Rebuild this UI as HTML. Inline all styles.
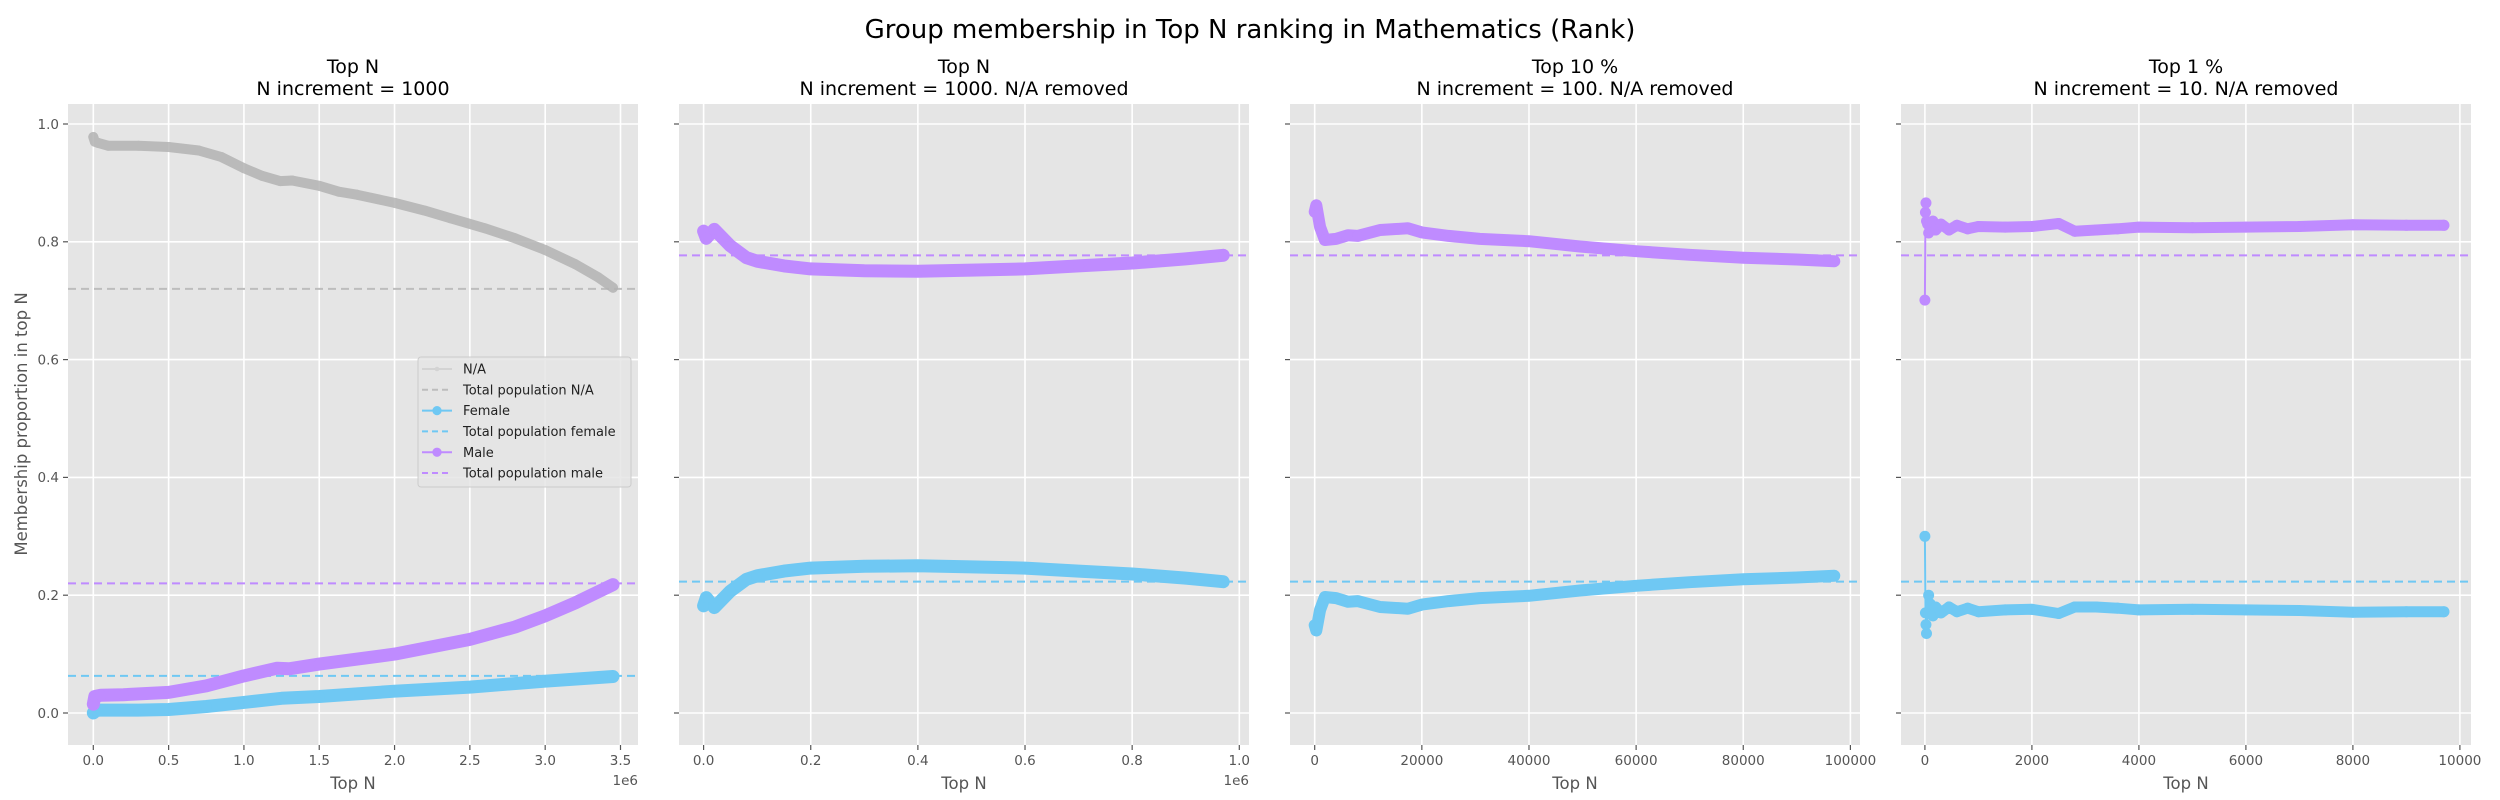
<!DOCTYPE html>
<html><head><meta charset="utf-8"><title>Group membership chart</title>
<style>
html,body{margin:0;padding:0;background:#fff;}
svg{display:block;font-family:"DejaVu Sans","Liberation Sans",sans-serif;}
</style></head>
<body>
<svg id="chart" width="2500" height="800" viewBox="0 0 2500 800" xmlns="http://www.w3.org/2000/svg">
<text x="1250" y="38" font-size="26" text-anchor="middle" fill="#000">Group membership in Top N ranking in Mathematics (Rank)</text>
<text transform="translate(27,424) rotate(-90)" font-size="16.5" text-anchor="middle" fill="#555">Membership proportion in top N</text>
<g id="plots"></g>
</svg>
<script>
// ---------- data ----------
const yTicks = [0.0, 0.2, 0.4, 0.6, 0.8, 1.0];
const yTickLabels = ["0.0", "0.2", "0.4", "0.6", "0.8", "1.0"];

// Panel 1: Top N, x in units of 1e6
const p1Ticks = [0, 0.5, 1.0, 1.5, 2.0, 2.5, 3.0, 3.5];
const p1TickLabels = ["0.0","0.5","1.0","1.5","2.0","2.5","3.0","3.5"];
const p1NaX = [0, 0.01, 0.03, 0.1, 0.3, 0.5, 0.7, 0.85, 1.0, 1.12, 1.24, 1.32, 1.5, 1.63, 1.75, 2.0, 2.2, 2.37, 2.6, 2.8, 3.0, 3.2, 3.35, 3.45];
const p1NaY = [0.978, 0.97, 0.968, 0.963, 0.963, 0.961, 0.955, 0.944, 0.925, 0.912, 0.903, 0.904, 0.895, 0.885, 0.88, 0.866, 0.853, 0.84, 0.823, 0.806, 0.786, 0.762, 0.74, 0.722];
const p1FemaleX = [0, 0.02, 0.05, 0.3, 0.5, 0.75, 1.0, 1.25, 1.5, 2.0, 2.5, 3.0, 3.45];
const p1FemaleY = [0.0, 0.004, 0.005, 0.005, 0.006, 0.011, 0.018, 0.025, 0.028, 0.037, 0.044, 0.054, 0.062];
const p1MaleX = [0, 0.01, 0.05, 0.2, 0.5, 0.75, 1.0, 1.22, 1.3, 1.5, 2.0, 2.5, 2.8, 3.0, 3.2, 3.45];
const p1MaleY = [0.015, 0.028, 0.03, 0.031, 0.035, 0.046, 0.063, 0.076, 0.075, 0.083, 0.1, 0.125, 0.146, 0.165, 0.187, 0.218];
const p1TotalNa = 0.72, p1TotalFemale = 0.063, p1TotalMale = 0.22;

// Panel 2: Top N, N/A removed, x in 1e6
const p2Ticks = [0, 0.2, 0.4, 0.6, 0.8, 1.0];
const p2TickLabels = ["0.0","0.2","0.4","0.6","0.8","1.0"];
const p2FemaleX = [0, 0.005, 0.02, 0.05, 0.08, 0.1, 0.15, 0.2, 0.3, 0.4, 0.5, 0.6, 0.7, 0.8, 0.9, 0.97];
const p2FemaleY = [0.182, 0.196, 0.179, 0.207, 0.227, 0.233, 0.241, 0.246, 0.249, 0.25, 0.248, 0.246, 0.241, 0.236, 0.229, 0.223];
const p2MaleX = [0, 0.005, 0.02, 0.05, 0.08, 0.1, 0.15, 0.2, 0.3, 0.4, 0.5, 0.6, 0.7, 0.8, 0.9, 0.97];
const p2MaleY = [0.818, 0.806, 0.821, 0.793, 0.773, 0.767, 0.759, 0.754, 0.751, 0.75, 0.752, 0.754, 0.759, 0.764, 0.771, 0.777];
const p2TotalFemale = 0.223, p2TotalMale = 0.777;

// Panel 3: Top 10 %
const p3Ticks = [0, 20000, 40000, 60000, 80000, 100000];
const p3TickLabels = ["0","20000","40000","60000","80000","100000"];
const p3FemaleX = [0, 300, 1000, 1900, 4000, 6200, 8000, 12200, 17400, 20000, 25000, 30800, 40000, 49500, 60000, 70000, 80000, 90000, 97000];
const p3FemaleY = [0.149, 0.14, 0.175, 0.197, 0.195, 0.189, 0.19, 0.18, 0.177, 0.184, 0.19, 0.195, 0.199, 0.208, 0.216, 0.222, 0.227, 0.23, 0.233];
const p3MaleX = [0, 300, 1000, 1900, 4000, 6200, 8000, 12200, 17400, 20000, 25000, 30800, 40000, 49500, 60000, 70000, 80000, 90000, 97000];
const p3MaleY = [0.851, 0.862, 0.825, 0.803, 0.805, 0.811, 0.81, 0.82, 0.823, 0.816, 0.81, 0.805, 0.801, 0.792, 0.784, 0.778, 0.773, 0.77, 0.767];
const p3TotalFemale = 0.223, p3TotalMale = 0.777;

// Panel 4: Top 1 %
const p4Ticks = [0, 2000, 4000, 6000, 8000, 10000];
const p4TickLabels = ["0","2000","4000","6000","8000","10000"];
const p4FemaleX = [0, 10, 20, 30, 50, 70, 100, 150, 200, 300, 450, 600, 800, 1000, 1500, 2000, 2500, 2800, 3200, 3600, 4000, 5000, 6000, 7000, 8000, 9000, 9700];
const p4FemaleY = [0.30, 0.17, 0.15, 0.135, 0.17, 0.20, 0.185, 0.165, 0.18, 0.17, 0.18, 0.172, 0.178, 0.172, 0.175, 0.176, 0.169, 0.18, 0.18, 0.178, 0.175, 0.176, 0.175, 0.174, 0.171, 0.172, 0.172];
const p4MaleX = [0, 10, 20, 30, 50, 70, 100, 150, 200, 300, 450, 600, 800, 1000, 1500, 2000, 2500, 2800, 3200, 3600, 4000, 5000, 6000, 7000, 8000, 9000, 9700];
const p4MaleY = [0.701, 0.85, 0.866, 0.835, 0.83, 0.815, 0.82, 0.835, 0.82, 0.83, 0.82, 0.828, 0.822, 0.826, 0.825, 0.826, 0.831, 0.818, 0.82, 0.822, 0.825, 0.824, 0.825, 0.826, 0.829, 0.828, 0.828];
const p4TotalFemale = 0.223, p4TotalMale = 0.777;

// ---------- rendering ----------
const NS = "http://www.w3.org/2000/svg";
const FEMALE = "#6fc8f3", MALE = "#bf8bff", NA = "#b3b3b3", NADASH = "#bdbdbd";
const Y0 = 713, Y1 = 124, AX_TOP = 104, AX_BOT = 745;
const yScale = v => Y0 + (Y1 - Y0) * v;
const root = document.getElementById("plots");

function el(tag, attrs, parent) {
  const e = document.createElementNS(NS, tag);
  for (const k in attrs) e.setAttribute(k, attrs[k]);
  (parent || root).appendChild(e);
  return e;
}

const panels = [
  {left:68, x0:93.3, xm:620.5, tmax:3.5, ticks:p1Ticks, labels:p1TickLabels, sci:true,
   t1:"Top N", t2:"N increment = 1000", showY:true,
   series:[{x:p1NaX,y:p1NaY,c:NA,w:10,name:"na"},{x:p1FemaleX,y:p1FemaleY,c:FEMALE,w:13,name:"female"},{x:p1MaleX,y:p1MaleY,c:MALE,w:13,name:"male"}],
   totals:[{v:p1TotalNa,c:NADASH,name:"na"},{v:p1TotalFemale,c:FEMALE,name:"female"},{v:p1TotalMale,c:MALE,name:"male"}]},
  {left:679, x0:703.6, xm:1239.3, tmax:1.0, ticks:p2Ticks, labels:p2TickLabels, sci:true,
   t1:"Top N", t2:"N increment = 1000. N/A removed",
   series:[{x:p2FemaleX,y:p2FemaleY,c:FEMALE,w:13,name:"female"},{x:p2MaleX,y:p2MaleY,c:MALE,w:13,name:"male"}],
   totals:[{v:p2TotalFemale,c:FEMALE,name:"female"},{v:p2TotalMale,c:MALE,name:"male"}]},
  {left:1290, x0:1314.7, xm:1850.4, tmax:100000, ticks:p3Ticks, labels:p3TickLabels,
   t1:"Top 10 %", t2:"N increment = 100. N/A removed",
   series:[{x:p3FemaleX,y:p3FemaleY,c:FEMALE,w:12,name:"female"},{x:p3MaleX,y:p3MaleY,c:MALE,w:12,name:"male"}],
   totals:[{v:p3TotalFemale,c:FEMALE,name:"female"},{v:p3TotalMale,c:MALE,name:"male"}]},
  {left:1901, x0:1924.9, xm:2459.9, tmax:10000, ticks:p4Ticks, labels:p4TickLabels, thinBefore:100,
   t1:"Top 1 %", t2:"N increment = 10. N/A removed",
   series:[{x:p4FemaleX,y:p4FemaleY,c:FEMALE,w:11,name:"female"},{x:p4MaleX,y:p4MaleY,c:MALE,w:11,name:"male"}],
   totals:[{v:p4TotalFemale,c:FEMALE,name:"female"},{v:p4TotalMale,c:MALE,name:"male"}]}
];

panels.forEach((p, pi) => {
  const W = 570, right = p.left + W;
  const xs = v => p.x0 + (p.xm - p.x0) * v / p.tmax;
  const g = el("g", {});
  
  
  const clipId = "clip" + pi;
  const cp = el("clipPath", {id: clipId}, g);
  el("rect", {x:p.left, y:AX_TOP, width:W, height:AX_BOT-AX_TOP}, cp);
  const bg = el("rect", {x:p.left, y:AX_TOP, width:W, height:AX_BOT-AX_TOP, fill:"#e5e5e5"}, g);
  
  
  yTicks.forEach((t, i) => {
    const y = yScale(t);
    const gl = el("line", {x1:p.left, x2:right, y1:y, y2:y, stroke:"#fff", "stroke-width":1.6}, g);
    
    
    const tk = el("line", {x1:p.left-5, x2:p.left, y1:y, y2:y, stroke:"#555", "stroke-width":1.2}, g);
    
    
    if (p.showY) {
      const tl = el("text", {x:p.left-9, y:y+4.8, "font-size":13.5, "text-anchor":"end", fill:"#555"}, g);
      tl.textContent = yTickLabels[i];
      
      
    }
  });
  p.ticks.forEach((t, i) => {
    const x = xs(t);
    const gl = el("line", {x1:x, x2:x, y1:AX_TOP, y2:AX_BOT, stroke:"#fff", "stroke-width":1.6}, g);
    
    
    const tk = el("line", {x1:x, x2:x, y1:AX_BOT, y2:AX_BOT+5, stroke:"#555", "stroke-width":1.2}, g);
    
    
    const tl = el("text", {x:x, y:AX_BOT+20, "font-size":13.5, "text-anchor":"middle", fill:"#555"}, g);
    tl.textContent = p.labels[i];
    
    
  });
  const xl = el("text", {x:p.left+W/2, y:AX_BOT+44, "font-size":16.5, "text-anchor":"middle", fill:"#555"}, g);
  xl.textContent = "Top N";
  
  
  if (p.sci) {
    const s = el("text", {x:right, y:AX_BOT+40, "font-size":13.5, "text-anchor":"end", fill:"#555"}, g);
    s.textContent = "1e6";
    
    
  }
  const t1 = el("text", {x:p.left+W/2, y:73, "font-size":19, "text-anchor":"middle", fill:"#000"}, g);
  t1.textContent = p.t1;
  
  
  const t2 = el("text", {x:p.left+W/2, y:95, "font-size":19, "text-anchor":"middle", fill:"#000"}, g);
  t2.textContent = p.t2;
  
  

  const plot = el("g", {"clip-path":"url(#"+clipId+")"}, g);
  p.totals.forEach(t => {
    const y = yScale(t.v);
    const ln = el("line", {x1:p.left, x2:right, y1:y, y2:y, stroke:t.c, "stroke-width":2, "stroke-dasharray":"8,5"}, plot);
    
    
  });
  p.series.forEach(s => {
    const sg = el("g", {opacity: s.name === "na" ? 0.85 : 1}, plot);
    
    
    const allPts = s.x.map((v, i) => xs(v).toFixed(1) + "," + yScale(s.y[i]).toFixed(1)).join(" ");
    const thin = el("polyline", {points:allPts, fill:"none", stroke:s.c, "stroke-width":2}, sg);
    
    
    const thr = p.thinBefore || -1;
    const densePts = [];
    s.x.forEach((v, i) => { if (v >= thr) densePts.push(xs(v).toFixed(1) + "," + yScale(s.y[i]).toFixed(1)); });
    const thick = el("polyline", {points:densePts.join(" "), fill:"none", stroke:s.c, "stroke-width":s.w, "stroke-linejoin":"round", "stroke-linecap":"round"}, sg);
    
    
    s.x.forEach((v, i) => {
      const m = el("circle", {cx:xs(v), cy:yScale(s.y[i]), r:Math.min(s.w/2, 5.5), fill:s.c}, sg);
      
      
    });
  });
});

// legend in panel 1
const leg = el("g", {});


el("rect", {x:418, y:357, width:213, height:130, rx:3, fill:"#e5e5e5", "fill-opacity":0.85, stroke:"#cccccc", "stroke-width":1}, leg);
const legendLabels = ["N/A", "Total population N/A", "Female", "Total population female", "Male", "Total population male"];
const legendColors = ["#d3d3d3", NADASH, FEMALE, FEMALE, MALE, MALE];
const legendDashed = [false, true, false, true, false, true];
const legendMarker = [3, 0, 6, 0, 6, 0];
legendLabels.forEach((lab, i) => {
  const y = 369 + i * 20.8;
  const e = el("g", {}, leg);
  
  
  const attrs = {x1:422, x2:452, y1:y, y2:y, stroke:legendColors[i], "stroke-width":2};
  if (legendDashed[i]) attrs["stroke-dasharray"] = "6,4";
  el("line", attrs, e);
  if (legendMarker[i]) el("circle", {cx:437, cy:y, r:legendMarker[i]/1.3, fill:legendColors[i]}, e);
  const t = el("text", {x:463, y:y+4.6, "font-size":13, fill:"#222"}, e);
  t.textContent = lab;
});
</script>
</body></html>
